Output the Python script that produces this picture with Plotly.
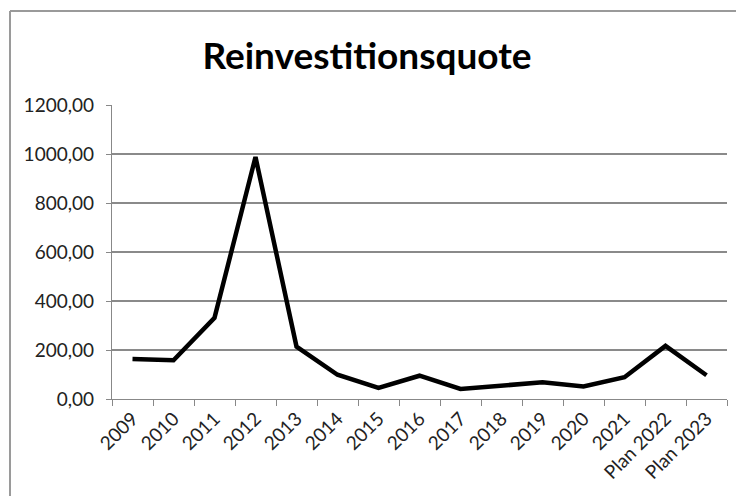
import plotly.graph_objects as go

categories = ["2009", "2010", "2011", "2012", "2013", "2014", "2015", "2016",
              "2017", "2018", "2019", "2020", "2021", "Plan 2022", "Plan 2023"]
values = [163, 158, 331, 988, 214, 99, 45, 95, 41, 54, 68, 51, 89, 217, 97]
y_ticks = [0, 200, 400, 600, 800, 1000, 1200]

FONT = "Lato"
OFF = 8  # default page body margin
W, H = 744 - 2 * OFF, 504 - 2 * OFF
L, T = 112 - OFF, 105 - OFF
pw, ph = 615, 294
R = W - L - pw
B = H - T - ph

def px2paper_x(px):
    return (px - OFF - L) / pw

def px2paper_y(py):
    return (H - B - (py - OFF)) / ph

border = dict(color="#9a9a9a", width=2)

fig = go.Figure(go.Scatter(
    x=categories, y=values, mode="lines",
    line=dict(color="#000000", width=4.5),
    hoverinfo="x+y",
))

fig.update_layout(
    width=W, height=H,
    margin=dict(l=L, r=R, t=T, b=B),
    paper_bgcolor="white", plot_bgcolor="white",
    separators=",.",
    showlegend=False,
    title=dict(text="<b>Reinvestitionsquote</b>", x=(367 - OFF) / W, xanchor="center",
               y=1 - (56 - OFF) / H, yanchor="middle",
               font=dict(family=FONT, size=37, color="#000000")),
    font=dict(family=FONT, color="#222222"),
    xaxis=dict(
        type="category", tickangle=-45, tickson="boundaries",
        ticks="outside", ticklen=6, tickcolor="#888888", tickwidth=1.3,
        showline=True, linecolor="#888888", linewidth=1.3,
        showgrid=False, tickfont=dict(family=FONT, size=19, color="#222222"),
        range=[-0.5, len(categories) - 0.5],
    ),
    yaxis=dict(
        range=[0, 1200], tickvals=y_ticks, tickformat=".2f",
        ticks="outside", ticklen=5, tickcolor="#888888", tickwidth=1.3,
        showline=True, linecolor="#888888", linewidth=1.3,
        showgrid=True, gridcolor="#8a8a8a", gridwidth=1.5,
        zeroline=False, ticklabelstandoff=8,
        tickfont=dict(family=FONT, size=19, color="#222222"),
    ),
    shapes=[
        dict(type="line", xref="paper", yref="paper",
             x0=px2paper_x(10), x1=px2paper_x(10),
             y0=px2paper_y(H + OFF), y1=px2paper_y(11), line=border, layer="below"),
        dict(type="line", xref="paper", yref="paper",
             x0=px2paper_x(10), x1=px2paper_x(W + OFF),
             y0=px2paper_y(11), y1=px2paper_y(11), line=border, layer="below"),
    ],
)

fig.write_html("out.html")
